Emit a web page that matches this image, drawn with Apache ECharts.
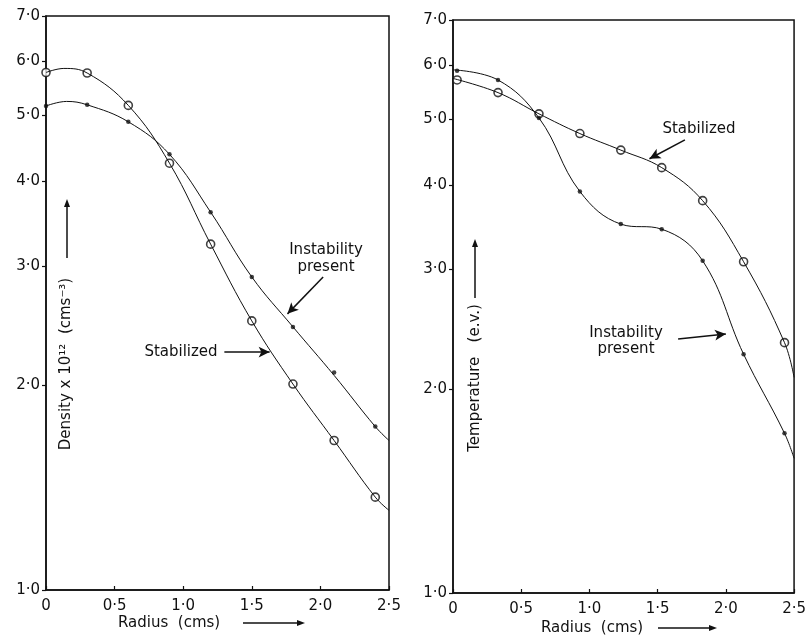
<!DOCTYPE html>
<html>
<head>
<meta charset="utf-8">
<script src="https://cdn.jsdelivr.net/npm/echarts@6/dist/echarts.min.js"></script>
<style>
  html, body { margin: 0; padding: 0; background: #fff; }
  #chart { width: 809px; height: 635px; }
</style>
</head>
<body>
<div id="chart"></div>
<script>
// ---- data ----
// density panel (left): measured points
const densRadius = [0, 0.3, 0.6, 0.9, 1.2, 1.5, 1.8, 2.1, 2.4];
const densStabilized = [5.78, 5.77, 5.17, 4.25, 3.23, 2.49, 2.01, 1.66, 1.37];
const densInstability = [5.16, 5.18, 4.89, 4.38, 3.60, 2.89, 2.44, 2.09, 1.74];
// density panel: the hand-drawn fitted curves, read at a few radii
const densStabCurveR = [0, 0.13, 0.3, 0.6, 0.9, 1.2, 1.5, 1.8, 2.1, 2.4, 2.5];
const densStabCurve = [5.78, 5.86, 5.77, 5.17, 4.25, 3.23, 2.49, 2.01, 1.66, 1.37, 1.31];
const densInstCurveR = [0, 0.15, 0.3, 0.6, 0.9, 1.2, 1.5, 1.8, 2.1, 2.4, 2.5];
const densInstCurve = [5.16, 5.24, 5.18, 4.89, 4.38, 3.60, 2.89, 2.44, 2.07, 1.74, 1.66];

// temperature panel (right): measured points
const tempRadius = [0.03, 0.33, 0.63, 0.93, 1.23, 1.53, 1.83, 2.13, 2.43];
const tempStabilized = [5.71, 5.47, 5.09, 4.76, 4.50, 4.24, 3.79, 3.08, 2.34];
const tempInstability = [5.89, 5.71, 5.02, 3.91, 3.50, 3.44, 3.09, 2.25, 1.72];
// temperature panel: fitted curves
const tempCurveR = [0, 0.33, 0.63, 0.93, 1.23, 1.53, 1.83, 2.13, 2.43, 2.5];
const tempStabCurve = [5.74, 5.47, 5.09, 4.76, 4.50, 4.24, 3.79, 3.08, 2.34, 2.08];
const tempInstCurve = [5.91, 5.71, 5.02, 3.91, 3.50, 3.44, 3.09, 2.25, 1.72, 1.58];

// axes
const yTicks = [1, 2, 3, 4, 5, 6, 7];

const FONT = 'DejaVu Sans';
const INK = '#111';

function pairs(xs, ys) {
  return xs.map((x, i) => [x, ys[i]]);
}
function fmt(v) {
  if (v === 0) return '0';
  return v.toFixed(1).replace('.', '·');
}

function xAxisFor(gridIndex) {
  return {
    type: 'value', gridIndex: gridIndex, min: 0, max: 2.5, interval: 0.5,
    axisLine: { show: true, onZero: false, lineStyle: { color: INK, width: 1.5 } },
    axisTick: { show: true, inside: true, length: 4, lineStyle: { color: INK, width: 1.2 } },
    axisLabel: { color: INK, fontFamily: FONT, fontSize: 15, margin: 9, formatter: fmt },
    splitLine: { show: false }
  };
}
function yAxisFor(gridIndex) {
  return {
    type: 'log', logBase: 10, gridIndex: gridIndex, min: 1, max: 7,
    axisLine: { show: true, lineStyle: { color: INK, width: 1.5 } },
    axisTick: { show: true, length: 4, customValues: yTicks, lineStyle: { color: INK, width: 1.2 } },
    axisLabel: { color: INK, fontFamily: FONT, fontSize: 15, margin: 6, customValues: yTicks, formatter: fmt },
    splitLine: { show: false },
    minorTick: { show: false }
  };
}

function curveSeries(idx, data, arrow) {
  const s = {
    type: 'line', xAxisIndex: idx, yAxisIndex: idx, data: data,
    smooth: 0.4, showSymbol: false, silent: true,
    lineStyle: { color: INK, width: 1 }
  };
  if (arrow) {
    s.markLine = {
      silent: true, animation: false,
      symbol: ['none', 'arrow'], symbolSize: [8, 11],
      label: { show: false },
      lineStyle: { color: INK, width: 1.5, type: 'solid' },
      data: [[{ coord: arrow[0] }, { coord: arrow[1] }]]
    };
  }
  return s;
}
function markerSeries(idx, data, open) {
  return {
    type: 'scatter', xAxisIndex: idx, yAxisIndex: idx, data: data,
    symbol: 'circle', symbolSize: open ? 8 : 4.5, silent: true,
    itemStyle: open
      ? { color: '#fff', borderColor: INK, borderWidth: 1.6 }
      : { color: INK }
  };
}

function arrowGraphic(x1, y1, x2, y2) {
  const ang = Math.atan2(y2 - y1, x2 - x1);
  const hl = 8, hw = 3;
  const bx = x2 - hl * Math.cos(ang), by = y2 - hl * Math.sin(ang);
  const px = -Math.sin(ang) * hw, py = Math.cos(ang) * hw;
  return [
    { type: 'line', shape: { x1: x1, y1: y1, x2: bx, y2: by }, style: { stroke: INK, lineWidth: 1.5 } },
    { type: 'polygon', shape: { points: [[x2, y2], [bx + px, by + py], [bx - px, by - py]] }, style: { fill: INK } }
  ];
}
function label(x, y, text, rot, align) {
  return {
    type: 'text', x: x, y: y, rotation: rot || 0,
    style: {
      text: text, fill: INK, font: '15px "' + FONT + '"',
      align: align || 'center', verticalAlign: 'middle'
    }
  };
}

const chart = echarts.init(document.getElementById('chart'), null, { renderer: 'canvas' });

const option = {
  animation: false,
  backgroundColor: '#fff',
  grid: [
    { left: 46, right: 420, top: 16, bottom: 45, show: true, borderColor: INK, borderWidth: 1.5, backgroundColor: 'transparent' },
    { left: 453, right: 12, top: 20, bottom: 42, show: true, borderColor: INK, borderWidth: 1.5, backgroundColor: 'transparent' }
  ],
  xAxis: [xAxisFor(0), xAxisFor(1)],
  yAxis: [yAxisFor(0), yAxisFor(1)],
  series: [
    curveSeries(0, pairs(densStabCurveR, densStabCurve), [[1.30, 2.24], [1.63, 2.24]]),
    curveSeries(0, pairs(densInstCurveR, densInstCurve), [[2.02, 2.89], [1.76, 2.55]]),
    markerSeries(0, pairs(densRadius, densStabilized), true),
    markerSeries(0, pairs(densRadius, densInstability), false),
    curveSeries(1, pairs(tempCurveR, tempStabCurve), [[1.70, 4.66], [1.44, 4.37]]),
    curveSeries(1, pairs(tempCurveR, tempInstCurve), [[1.65, 2.37], [2.00, 2.41]]),
    markerSeries(1, pairs(tempRadius, tempStabilized), true),
    markerSeries(1, pairs(tempRadius, tempInstability), false)
  ],
  graphic: [].concat(
    // left panel texts
    [label(326, 250, 'Instability'), label(326, 267, 'present'), label(181, 352, 'Stabilized')],
    [label(66, 364, 'Density x 10¹²  (cms⁻³)', Math.PI / 2)],
    arrowGraphic(67, 258, 67, 199),
    [label(118, 623, 'Radius  (cms)', 0, 'left')],
    arrowGraphic(243, 623, 305, 623),
    // right panel texts
    [label(699, 129, 'Stabilized'), label(626, 333, 'Instability'), label(626, 349, 'present')],
    [label(475, 378, 'Temperature   (e.v.)', Math.PI / 2)],
    arrowGraphic(475, 298, 475, 239),
    [label(541, 628, 'Radius  (cms)', 0, 'left')],
    arrowGraphic(658, 628, 717, 628)
  )
};

chart.setOption(option);
</script>
</body>
</html>
